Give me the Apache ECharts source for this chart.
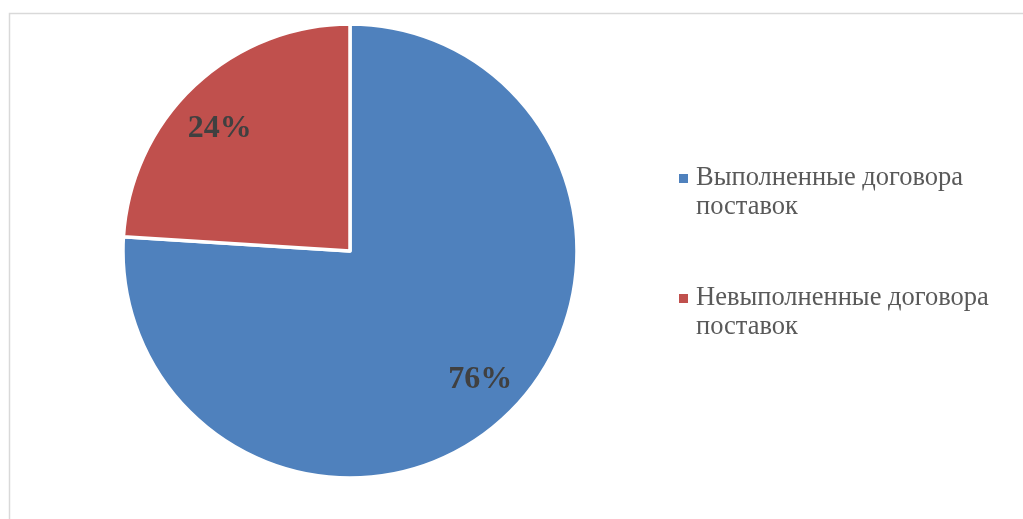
<!DOCTYPE html>
<html>
<head>
<meta charset="utf-8">
<style>
  html, body { margin: 0; padding: 0; background: #ffffff; }
  #chart { width: 1023px; height: 519px; }
</style>
<script src="https://cdn.jsdelivr.net/npm/echarts@6/dist/echarts.min.js"></script>
</head>
<body>
<div id="chart"></div>
<script>
// Доля выполненных и невыполненных договоров поставок, %
const categories = ['Выполненные договора поставок', 'Невыполненные договора поставок'];
// пустая первая строка ставит маркер легенды напротив первой строки подписи
const legendLines = ['\nВыполненные договора\nпоставок', '\nНевыполненные договора\nпоставок'];
const shares = [76, 24];
const colors = ['#4F81BD', '#C0504D'];

const slices = categories.map((name, i) => ({
  name: name,
  value: shares[i],
  itemStyle: { color: colors[i] }
}));

const chart = echarts.init(document.getElementById('chart'), null, { renderer: 'canvas' });

chart.setOption({
  animation: false,
  backgroundColor: '#ffffff',
  graphic: [{
    type: 'rect',
    silent: true,
    shape: { x: 9.5, y: 13.5, width: 1100, height: 600 },
    style: { fill: 'none', stroke: '#d9d9d9', lineWidth: 1.5 }
  }],
  legend: {
    orient: 'vertical',
    left: 674,
    top: 130,
    itemWidth: 9,
    itemHeight: 9,
    itemGap: 33,
    icon: 'rect',
    selectedMode: false,
    itemStyle: { borderWidth: 0 },
    formatter: function (name) {
      return legendLines[categories.indexOf(name)];
    },
    textStyle: {
      fontFamily: '"Liberation Serif", "Times New Roman", serif',
      fontSize: 26.5,
      lineHeight: 29,
      color: '#595959',
      padding: [0, 0, 0, 3]
    },
    data: categories
  },
  series: [
    {
      type: 'pie',
      center: [350, 251],
      radius: [0, 227],
      startAngle: 90,
      clockwise: true,
      silent: true,
      label: { show: false },
      labelLine: { show: false },
      itemStyle: { borderColor: '#ffffff', borderWidth: 3.5 },
      data: slices
    },
    {
      // прозрачное кольцо для размещения подписей ближе к краю
      type: 'pie',
      center: [350, 251],
      radius: [136, 220],
      startAngle: 92.8,
      clockwise: true,
      silent: true,
      legendHoverLink: false,
      itemStyle: { color: 'rgba(0,0,0,0)', borderWidth: 0 },
      label: {
        show: true,
        position: 'inside',
        formatter: '{c}%',
        offset: [0, 3],
        fontFamily: '"Liberation Serif", "Times New Roman", serif',
        fontWeight: 'bold',
        fontSize: 32,
        color: '#404040'
      },
      labelLine: { show: false },
      data: categories.map((name, i) => ({ name: name + ' ', value: shares[i] }))
    }
  ]
});
</script>
</body>
</html>
